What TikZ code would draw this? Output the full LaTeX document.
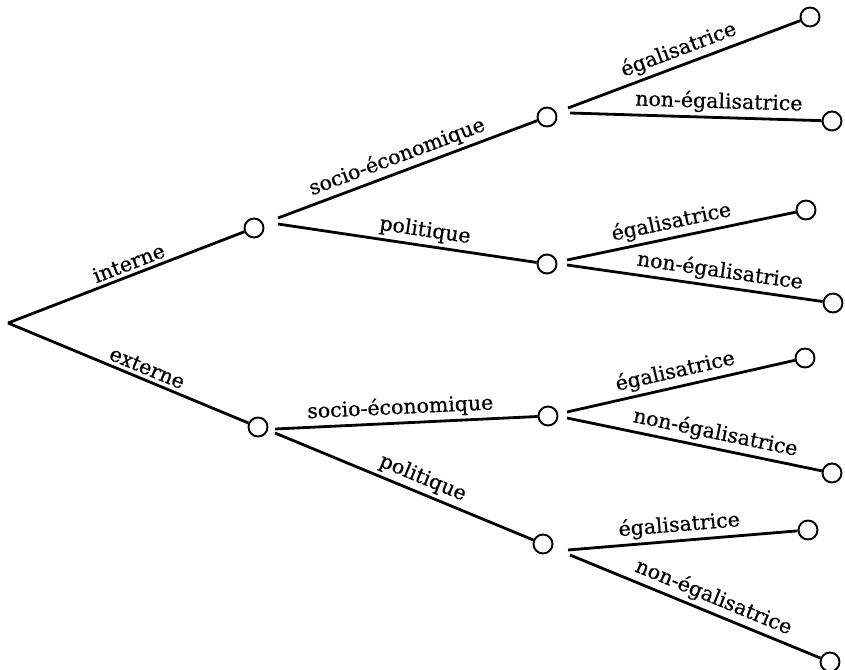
\documentclass[tikz,border=0pt]{standalone}
\usepackage{fontspec}
\setmainfont{DejaVu Serif}[FakeBold=0.5]
\begin{document}
\begin{tikzpicture}[x=1pt,y=-1pt,
  branch/.style={line width=2.8pt},
  knot/.style={circle,draw,line width=1.9pt,minimum size=19pt,inner sep=0pt,fill=white},
  lab/.style={sloped,above,inner sep=3.5pt,font=\fontsize{20.5}{24}\selectfont}]
\useasboundingbox (0,0) rectangle (845,669);
% root
\coordinate (R) at (8,323);
% level 1
\node[knot] (A) at (254,228) {};
\node[knot] (B) at (258,427) {};
% level 2
\node[knot] (A1) at (547,117) {};
\node[knot] (A2) at (547,264) {};
\node[knot] (B1) at (548,416) {};
\node[knot] (B2) at (543,544) {};
% leaves
\node[knot] (A1a) at (810,17) {};
\node[knot] (A1b) at (832,121) {};
\node[knot] (A2a) at (806,210) {};
\node[knot] (A2b) at (833,303) {};
\node[knot] (B1a) at (805,358) {};
\node[knot] (B1b) at (832,473) {};
\node[knot] (B2a) at (808,530) {};
\node[knot] (B2b) at (830,662) {};
% starting points of outgoing branches
\coordinate (As1) at (278,218);
\coordinate (As2) at (278,224);
\coordinate (Bs1) at (275,429);
\coordinate (Bs2) at (275,433);
\coordinate (A1s1) at (568,108);
\coordinate (A1s2) at (570,113);
\coordinate (A2s1) at (567,260);
\coordinate (A2s2) at (567,265);
\coordinate (B1s1) at (567,412);
\coordinate (B1s2) at (567,418);
\coordinate (B2s1) at (568,550);
\coordinate (B2s2) at (570,555);
% branches
\draw[branch] (R) -- node[lab,pos=0.53] {interne} (A);
\draw[branch] (R) -- node[lab,pos=0.56] {externe} (B);
\draw[branch] (As1) -- node[lab,pos=0.48] {socio-économique} (A1);
\draw[branch] (As2) -- node[lab,pos=0.56] {politique} (A2);
\draw[branch] (Bs1) -- node[lab,pos=0.48] {socio-économique} (B1);
\draw[branch] (Bs2) -- node[lab,pos=0.55] {politique} (B2);
\draw[branch] (A1s1) -- node[lab,pos=0.50] {égalisatrice} (A1a);
\draw[branch] (A1s2) -- node[lab,pos=0.59] {non-égalisatrice} (A1b);
\draw[branch] (A2s1) -- node[lab,pos=0.47] {égalisatrice} (A2a);
\draw[branch] (A2s2) -- node[lab,pos=0.59] {non-égalisatrice} (A2b);
\draw[branch] (B1s1) -- node[lab,pos=0.49] {égalisatrice} (B1a);
\draw[branch] (B1s2) -- node[lab,pos=0.57] {non-égalisatrice} (B1b);
\draw[branch] (B2s1) -- node[lab,pos=0.49] {égalisatrice} (B2a);
\draw[branch] (B2s2) -- node[lab,pos=0.55] {non-égalisatrice} (B2b);
\end{tikzpicture}
\end{document}
